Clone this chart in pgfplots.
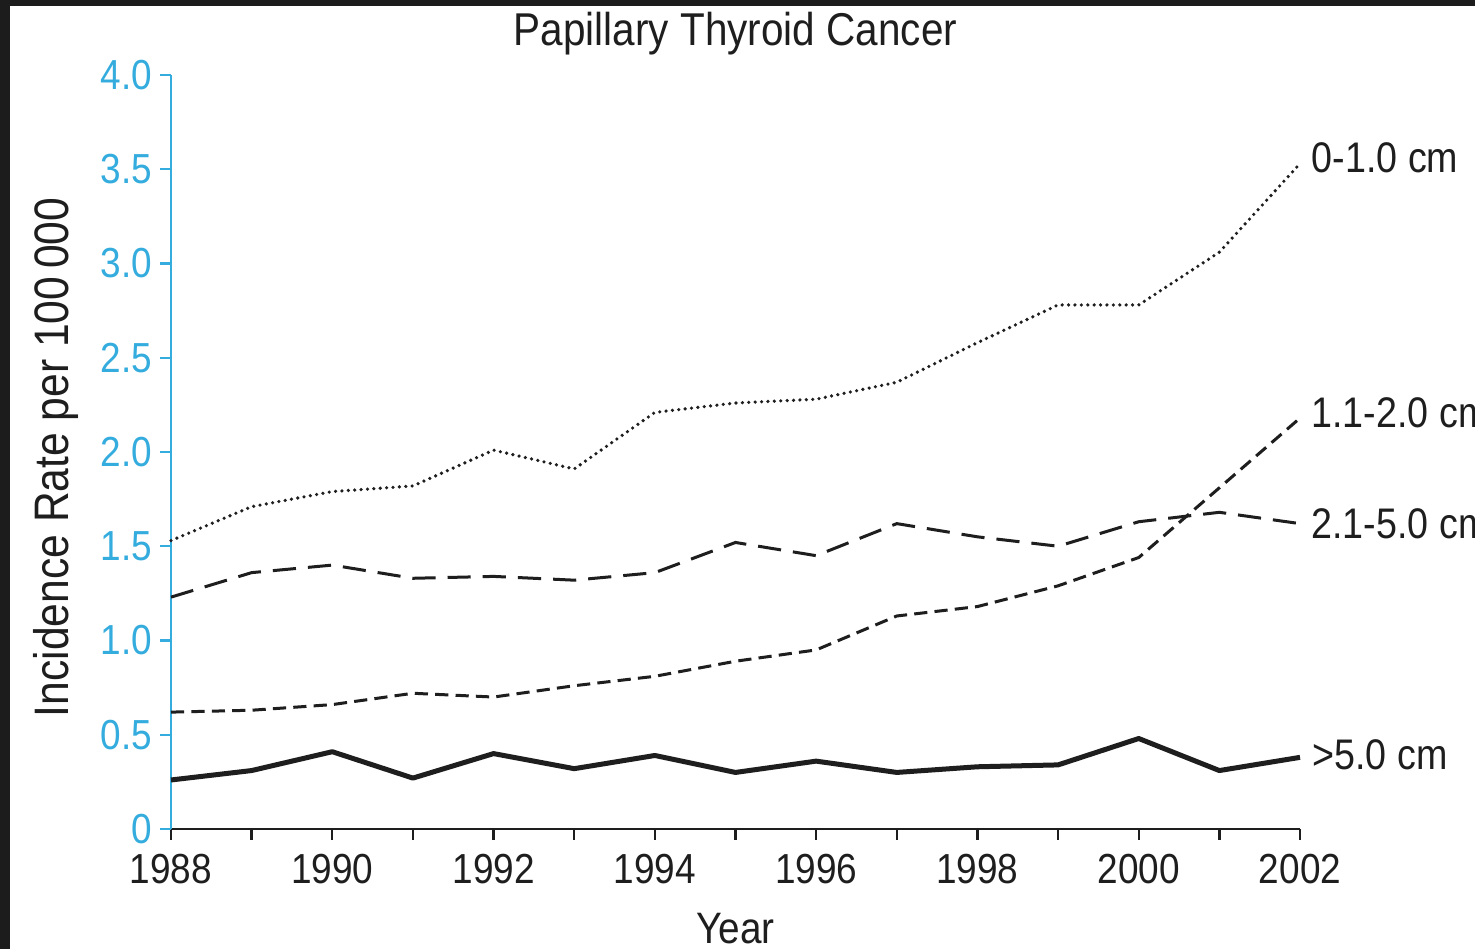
\documentclass[border=0pt]{standalone}
\usepackage{pgfplots}
\pgfplotsset{compat=1.18}
\usepackage{pgfplotstable}
\usepackage{fontspec}
\setmainfont{Liberation Sans}[FakeStretch=0.88]
\definecolor{axcyan}{RGB}{52,172,222}
\definecolor{ink}{RGB}{30,30,30}
\definecolor{framecol}{RGB}{28,28,28}

\pgfplotstableread{
year a b c d
1988 1.53 0.62 1.23 0.26
1989 1.71 0.63 1.36 0.31
1990 1.79 0.66 1.40 0.41
1991 1.82 0.72 1.33 0.27
1992 2.01 0.70 1.34 0.40
1993 1.91 0.76 1.32 0.32
1994 2.21 0.81 1.36 0.39
1995 2.26 0.89 1.52 0.30
1996 2.28 0.95 1.45 0.36
1997 2.37 1.13 1.62 0.30
1998 2.58 1.18 1.55 0.33
1999 2.78 1.29 1.50 0.34
2000 2.78 1.44 1.63 0.48
2001 3.06 1.81 1.68 0.31
2002 3.53 2.18 1.62 0.38
}\datatable

\begin{document}
\begin{tikzpicture}[x=1pt,y=1pt]
\useasboundingbox (0,0) rectangle (368.75,237.25);
\fill[framecol] (0,0) rectangle (368.75,237.25);
\fill[white] (2.5,0) rectangle (368.75,235.75);
\clip (0,0) rectangle (368.75,237.25);
\begin{axis}[
  at={(42.75pt,30pt)}, anchor=south west,
  scale only axis, width=282.25pt, height=188.5pt,
  xmin=1988, xmax=2002, ymin=0, ymax=4,
  axis x line*=bottom, axis y line*=left,
  axis line style={-},
  x axis line style={ink, line width=0.6pt},
  y axis line style={axcyan, line width=0.6pt},
  xtick={1988,1990,...,2002},
  minor xtick={1989,1991,...,2001},
  xticklabels={1988,1990,1992,1994,1996,1998,2000,2002},
  ytick={0,0.5,...,4},
  yticklabels={0,0.5,1.0,1.5,2.0,2.5,3.0,3.5,4.0},
  tick align=outside,
  major tick length=2.75pt, minor tick length=2.75pt,
  x tick style={ink, line width=0.6pt},
  minor x tick style={ink, line width=0.6pt},
  y tick style={axcyan, line width=0.6pt},
  /pgf/number format/assume math mode=true,
  tick label style={font=\fontsize{10.5}{12}\selectfont},
  yticklabel style={text=axcyan, xshift=1.6pt},
  xticklabel style={text=ink},
  title={Papillary Thyroid Cancer},
  every axis title/.style={at={(axis description cs:0.5,1)}, anchor=base, yshift=7.25pt, font=\fontsize{11.5}{13}\selectfont, text=ink},
  ylabel={Incidence Rate per 100\,000},
  ylabel style={at={(axis description cs:-0.0912,0.493)}, anchor=base, font=\fontsize{12.1}{13}\selectfont, text=ink},
  xlabel={Year},
  xlabel style={at={(axis description cs:0.5,-0.1525)}, anchor=base, font=\fontsize{11}{13}\selectfont, text=ink},
  clip=false,
]
\addplot[ink, line width=0.9pt, line cap=round, dash pattern=on 0pt off 1.6pt]
  table[x=year,y=a]{\datatable}
  node[pos=1, anchor=west, inner sep=0pt, xshift=2.5pt, yshift=1.5pt, font=\fontsize{10.7}{12}\selectfont, text=ink]{0-1.0 cm};
\addplot[ink, line width=0.75pt, dash pattern=on 3.3pt off 1.8pt]
  table[x=year,y=b]{\datatable}
  node[pos=1, anchor=west, inner sep=0pt, xshift=2.5pt, yshift=1.2pt, font=\fontsize{10.7}{12}\selectfont, text=ink]{1.1-2.0 cm};
\addplot[ink, line width=0.75pt, dash pattern=on 5.8pt off 3pt]
  table[x=year,y=c]{\datatable}
  node[pos=1, anchor=west, inner sep=0pt, xshift=2.5pt, font=\fontsize{10.7}{12}\selectfont, text=ink]{2.1-5.0 cm};
\addplot[ink, line width=1.25pt, line join=round]
  table[x=year,y=d]{\datatable}
  node[pos=1, anchor=west, inner sep=0pt, xshift=2.5pt, yshift=0.7pt, font=\fontsize{10.7}{12}\selectfont, text=ink]{>5.0 cm};
\end{axis}
\end{tikzpicture}
\end{document}
